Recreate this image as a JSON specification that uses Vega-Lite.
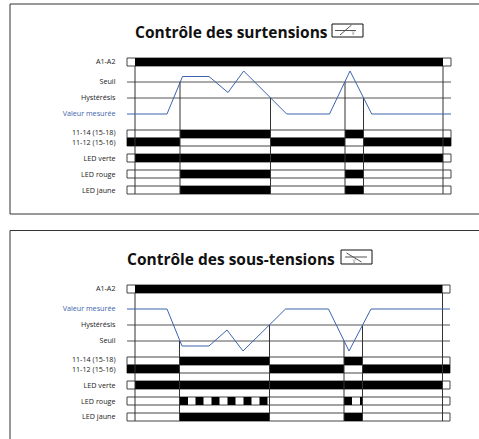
{"$schema":"https://vega.github.io/schema/vega-lite/v6.json","padding":0,"spacing":0,"background":"white","config":{"view":{"stroke":null},"concat":{"spacing":0}},
"datasets":{
"bars":[
{"p":1,"signal":"A1-A2","t0":-8,"t1":316,"y0":58,"y1":66,"state":"off"},
{"p":1,"signal":"11-14","t0":-8,"t1":316,"y0":130,"y1":138,"state":"off"},
{"p":1,"signal":"11-12","t0":-8,"t1":316,"y0":138,"y1":146,"state":"off"},
{"p":1,"signal":"verte","t0":-8,"t1":316,"y0":154,"y1":162,"state":"off"},
{"p":1,"signal":"rouge","t0":-8,"t1":316,"y0":170,"y1":178,"state":"off"},
{"p":1,"signal":"jaune","t0":-8,"t1":316,"y0":186,"y1":194,"state":"off"},
{"p":1,"signal":"A1-A2","t0":0,"t1":308,"y0":58,"y1":66,"state":"on"},
{"p":1,"signal":"11-14","t0":45,"t1":135.5,"y0":130,"y1":138,"state":"on"},
{"p":1,"signal":"11-14","t0":210,"t1":228.5,"y0":130,"y1":138,"state":"on"},
{"p":1,"signal":"11-12","t0":-8,"t1":45,"y0":138,"y1":146,"state":"on"},
{"p":1,"signal":"11-12","t0":135.5,"t1":210,"y0":138,"y1":146,"state":"on"},
{"p":1,"signal":"11-12","t0":228.5,"t1":316,"y0":138,"y1":146,"state":"on"},
{"p":1,"signal":"verte","t0":0,"t1":308,"y0":154,"y1":162,"state":"on"},
{"p":1,"signal":"rouge","t0":45,"t1":135.5,"y0":170,"y1":178,"state":"on"},
{"p":1,"signal":"rouge","t0":210,"t1":228.5,"y0":170,"y1":178,"state":"on"},
{"p":1,"signal":"jaune","t0":45,"t1":135.5,"y0":186,"y1":194,"state":"on"},
{"p":1,"signal":"jaune","t0":210,"t1":228.5,"y0":186,"y1":194,"state":"on"},
{"p":2,"signal":"A1-A2","t0":-8,"t1":315,"y0":65,"y1":73,"state":"off"},
{"p":2,"signal":"11-14","t0":-8,"t1":315,"y0":137,"y1":145,"state":"off"},
{"p":2,"signal":"11-12","t0":-8,"t1":315,"y0":145,"y1":153,"state":"off"},
{"p":2,"signal":"verte","t0":-8,"t1":315,"y0":161,"y1":169,"state":"off"},
{"p":2,"signal":"rouge","t0":-8,"t1":315,"y0":177,"y1":185,"state":"off"},
{"p":2,"signal":"jaune","t0":-8,"t1":315,"y0":193,"y1":201,"state":"off"},
{"p":2,"signal":"A1-A2","t0":0,"t1":307.5,"y0":65,"y1":73,"state":"on"},
{"p":2,"signal":"11-14","t0":44.5,"t1":134.5,"y0":137,"y1":145,"state":"on"},
{"p":2,"signal":"11-14","t0":209,"t1":227.5,"y0":137,"y1":145,"state":"on"},
{"p":2,"signal":"11-12","t0":-8,"t1":44.5,"y0":145,"y1":153,"state":"on"},
{"p":2,"signal":"11-12","t0":134.5,"t1":209,"y0":145,"y1":153,"state":"on"},
{"p":2,"signal":"11-12","t0":227.5,"t1":315,"y0":145,"y1":153,"state":"on"},
{"p":2,"signal":"verte","t0":0,"t1":307.5,"y0":161,"y1":169,"state":"on"},
{"p":2,"signal":"rouge","t0":44.5,"t1":53,"y0":177,"y1":185,"state":"on"},
{"p":2,"signal":"rouge","t0":60.5,"t1":68.5,"y0":177,"y1":185,"state":"on"},
{"p":2,"signal":"rouge","t0":76.5,"t1":84.5,"y0":177,"y1":185,"state":"on"},
{"p":2,"signal":"rouge","t0":92.5,"t1":100.5,"y0":177,"y1":185,"state":"on"},
{"p":2,"signal":"rouge","t0":108.5,"t1":116.5,"y0":177,"y1":185,"state":"on"},
{"p":2,"signal":"rouge","t0":124.5,"t1":132.5,"y0":177,"y1":185,"state":"on"},
{"p":2,"signal":"rouge","t0":209,"t1":217,"y0":177,"y1":185,"state":"on"},
{"p":2,"signal":"rouge","t0":225,"t1":227.5,"y0":177,"y1":185,"state":"on"},
{"p":2,"signal":"jaune","t0":44.5,"t1":134.5,"y0":193,"y1":201,"state":"on"},
{"p":2,"signal":"jaune","t0":209,"t1":227.5,"y0":193,"y1":201,"state":"on"}
],
"rules":[
{"p":1,"kind":"frame","t0":-125,"t1":344,"y0":4,"y1":4},
{"p":1,"kind":"frame","t0":-125,"t1":-125,"y0":4,"y1":214},
{"p":1,"kind":"frame","t0":-125,"t1":344,"y0":214,"y1":214},
{"p":1,"kind":"level","t0":-8,"t1":316,"y0":82,"y1":82},
{"p":1,"kind":"level","t0":-8,"t1":316,"y0":98,"y1":98},
{"p":1,"kind":"edge","t0":0,"t1":0,"y0":66,"y1":194},
{"p":1,"kind":"edge","t0":45,"t1":45,"y0":82,"y1":194},
{"p":1,"kind":"edge","t0":135.5,"t1":135.5,"y0":98,"y1":194},
{"p":1,"kind":"edge","t0":210,"t1":210,"y0":82,"y1":194},
{"p":1,"kind":"edge","t0":228.5,"t1":228.5,"y0":98,"y1":194},
{"p":1,"kind":"edge","t0":308,"t1":308,"y0":66,"y1":194},
{"p":2,"kind":"frame","t0":-125,"t1":344,"y0":10.5,"y1":10.5},
{"p":2,"kind":"frame","t0":-125,"t1":-125,"y0":10.5,"y1":219},
{"p":2,"kind":"level","t0":-8,"t1":315,"y0":105,"y1":105},
{"p":2,"kind":"level","t0":-8,"t1":315,"y0":121,"y1":121},
{"p":2,"kind":"edge","t0":0,"t1":0,"y0":73,"y1":201},
{"p":2,"kind":"edge","t0":44.5,"t1":44.5,"y0":121,"y1":201},
{"p":2,"kind":"edge","t0":134.5,"t1":134.5,"y0":105,"y1":201},
{"p":2,"kind":"edge","t0":209,"t1":209,"y0":121,"y1":201},
{"p":2,"kind":"edge","t0":227.5,"t1":227.5,"y0":105,"y1":201},
{"p":2,"kind":"edge","t0":307.5,"t1":307.5,"y0":73,"y1":201},
{"p":1,"kind":"icon","t0":197,"t1":228,"y0":24,"y1":24},
{"p":1,"kind":"icon","t0":197,"t1":228,"y0":37,"y1":37},
{"p":1,"kind":"icon","t0":197,"t1":197,"y0":24,"y1":37},
{"p":1,"kind":"icon","t0":228,"t1":228,"y0":24,"y1":37},
{"p":1,"kind":"glyph","t0":200,"t1":221,"y0":30.5,"y1":30.5},
{"p":1,"kind":"glyph","t0":205,"t1":216.5,"y0":35,"y1":25},
{"p":2,"kind":"icon","t0":206,"t1":237,"y0":30,"y1":30},
{"p":2,"kind":"icon","t0":206,"t1":237,"y0":44,"y1":44},
{"p":2,"kind":"icon","t0":206,"t1":206,"y0":30,"y1":44},
{"p":2,"kind":"icon","t0":237,"t1":237,"y0":30,"y1":44},
{"p":2,"kind":"glyph","t0":210,"t1":232,"y0":37,"y1":37},
{"p":2,"kind":"glyph","t0":211.5,"t1":226.5,"y0":33,"y1":42}
],
"measure":[
{"p":1,"t":-8,"v":114},{"p":1,"t":32,"v":114},{"p":1,"t":47.5,"v":76.5},{"p":1,"t":74,"v":76.5},{"p":1,"t":93,"v":92.5},{"p":1,"t":108.7,"v":71},{"p":1,"t":151.7,"v":114},{"p":1,"t":194.5,"v":114},{"p":1,"t":215,"v":71},{"p":1,"t":236.7,"v":114},{"p":1,"t":316,"v":114},
{"p":2,"t":-8,"v":89},{"p":2,"t":32,"v":89},{"p":2,"t":47,"v":126},{"p":2,"t":74,"v":126},{"p":2,"t":92,"v":110},{"p":2,"t":108,"v":131},{"p":2,"t":150.5,"v":89},{"p":2,"t":193.5,"v":89},{"p":2,"t":214,"v":131},{"p":2,"t":236,"v":89},{"p":2,"t":315,"v":89}
],
"labels":[
{"p":1,"label":"A1-A2","y":62,"kind":"signal"},{"p":1,"label":"Seuil","y":82,"kind":"signal"},{"p":1,"label":"Hystérésis","y":98,"kind":"signal"},{"p":1,"label":"Valeur mesurée","y":114,"kind":"mesure"},{"p":1,"label":"11-14 (15-18)","y":133,"kind":"signal"},{"p":1,"label":"11-12 (15-16)","y":143,"kind":"signal"},{"p":1,"label":"LED verte","y":159,"kind":"signal"},{"p":1,"label":"LED rouge","y":175,"kind":"signal"},{"p":1,"label":"LED jaune","y":191,"kind":"signal"},
{"p":2,"label":"A1-A2","y":69,"kind":"signal"},{"p":2,"label":"Valeur mesurée","y":89,"kind":"mesure"},{"p":2,"label":"Hystérésis","y":105,"kind":"signal"},{"p":2,"label":"Seuil","y":121,"kind":"signal"},{"p":2,"label":"11-14 (15-18)","y":140,"kind":"signal"},{"p":2,"label":"11-12 (15-16)","y":150,"kind":"signal"},{"p":2,"label":"LED verte","y":166,"kind":"signal"},{"p":2,"label":"LED rouge","y":182,"kind":"signal"},{"p":2,"label":"LED jaune","y":197,"kind":"signal"}
],
"titles":[
{"p":1,"title":"Contrôle des surtensions","t":0,"y":38},
{"p":2,"title":"Contrôle des sous-tensions","t":-8,"y":45}
],
"units":[
{"p":1,"u":"V","t":218,"y":35},
{"p":2,"u":"V","t":219,"y":42.5}
]},
"vconcat":[
{"width":479,"height":220,"layer":[
{"data":{"name":"bars"},"transform":[{"filter":"datum.p==1"}],"mark":{"type":"rect","strokeWidth":1,"strokeJoin":"miter"},"encoding":{"x":{"field":"t0","type":"quantitative","scale":{"domain":[-135,344],"nice":false,"zero":false},"axis":null},"x2":{"field":"t1"},"y":{"field":"y0","type":"quantitative","scale":{"domain":[220,0],"nice":false,"zero":false},"axis":null},"y2":{"field":"y1"},"fill":{"field":"state","type":"nominal","scale":{"domain":["off","on"],"range":["#ffffff","#000000"]},"legend":null},"stroke":{"field":"state","type":"nominal","scale":{"domain":["off","on"],"range":["#444444","transparent"]},"legend":null}}},
{"data":{"name":"rules"},"transform":[{"filter":"datum.p==1"}],"mark":{"type":"rule","strokeWidth":1},"encoding":{"x":{"field":"t0","type":"quantitative"},"x2":{"field":"t1"},"y":{"field":"y0","type":"quantitative"},"y2":{"field":"y1"},"color":{"field":"kind","type":"nominal","scale":{"domain":["frame","level","edge","icon","glyph","signal","mesure"],"range":["#333333","#555555","#333333","#111111","#555555","#222222","#3c64ad"]},"legend":null}}},
{"data":{"name":"measure"},"transform":[{"filter":"datum.p==1"}],"mark":{"type":"line","color":"#3c64ad","strokeWidth":1,"interpolate":"linear"},"encoding":{"x":{"field":"t","type":"quantitative"},"y":{"field":"v","type":"quantitative"}}},
{"data":{"name":"labels"},"transform":[{"filter":"datum.p==1"}],"mark":{"type":"text","align":"right","baseline":"middle","font":"Open Sans","fontSize":7.2,"x":115.5},"encoding":{"y":{"field":"y","type":"quantitative"},"text":{"field":"label"},"color":{"field":"kind","type":"nominal","scale":{"domain":["frame","level","edge","icon","glyph","signal","mesure"],"range":["#333333","#555555","#333333","#111111","#555555","#222222","#3c64ad"]},"legend":null}}},
{"data":{"name":"titles"},"transform":[{"filter":"datum.p==1"}],"mark":{"type":"text","align":"left","baseline":"alphabetic","font":"Open Sans","fontWeight":700,"fontSize":15.5,"color":"#111111"},"encoding":{"x":{"field":"t","type":"quantitative"},"y":{"field":"y","type":"quantitative"},"text":{"field":"title"}}},
{"data":{"name":"units"},"transform":[{"filter":"datum.p==1"}],"mark":{"type":"text","align":"center","baseline":"alphabetic","font":"Open Sans","fontSize":4.5,"color":"#555555"},"encoding":{"x":{"field":"t","type":"quantitative"},"y":{"field":"y","type":"quantitative"},"text":{"field":"u"}}}
]},
{"width":479,"height":219,"layer":[
{"data":{"name":"bars"},"transform":[{"filter":"datum.p==2"}],"mark":{"type":"rect","strokeWidth":1,"strokeJoin":"miter"},"encoding":{"x":{"field":"t0","type":"quantitative","scale":{"domain":[-135,344],"nice":false,"zero":false},"axis":null},"x2":{"field":"t1"},"y":{"field":"y0","type":"quantitative","scale":{"domain":[219,0],"nice":false,"zero":false},"axis":null},"y2":{"field":"y1"},"fill":{"field":"state","type":"nominal","scale":{"domain":["off","on"],"range":["#ffffff","#000000"]},"legend":null},"stroke":{"field":"state","type":"nominal","scale":{"domain":["off","on"],"range":["#222222","transparent"]},"legend":null}}},
{"data":{"name":"rules"},"transform":[{"filter":"datum.p==2"}],"mark":{"type":"rule","strokeWidth":1},"encoding":{"x":{"field":"t0","type":"quantitative"},"x2":{"field":"t1"},"y":{"field":"y0","type":"quantitative"},"y2":{"field":"y1"},"color":{"field":"kind","type":"nominal","scale":{"domain":["frame","level","edge","icon","glyph","signal","mesure"],"range":["#333333","#555555","#222222","#111111","#555555","#222222","#3c64ad"]},"legend":null}}},
{"data":{"name":"measure"},"transform":[{"filter":"datum.p==2"}],"mark":{"type":"line","color":"#3c64ad","strokeWidth":1,"interpolate":"linear"},"encoding":{"x":{"field":"t","type":"quantitative"},"y":{"field":"v","type":"quantitative"}}},
{"data":{"name":"labels"},"transform":[{"filter":"datum.p==2"}],"mark":{"type":"text","align":"right","baseline":"middle","font":"Open Sans","fontSize":7.2,"x":115.5},"encoding":{"y":{"field":"y","type":"quantitative"},"text":{"field":"label"},"color":{"field":"kind","type":"nominal","scale":{"domain":["frame","level","edge","icon","glyph","signal","mesure"],"range":["#333333","#555555","#222222","#111111","#555555","#222222","#3c64ad"]},"legend":null}}},
{"data":{"name":"titles"},"transform":[{"filter":"datum.p==2"}],"mark":{"type":"text","align":"left","baseline":"alphabetic","font":"Open Sans","fontWeight":700,"fontSize":15.5,"color":"#111111"},"encoding":{"x":{"field":"t","type":"quantitative"},"y":{"field":"y","type":"quantitative"},"text":{"field":"title"}}},
{"data":{"name":"units"},"transform":[{"filter":"datum.p==2"}],"mark":{"type":"text","align":"center","baseline":"alphabetic","font":"Open Sans","fontSize":4.5,"color":"#555555"},"encoding":{"x":{"field":"t","type":"quantitative"},"y":{"field":"y","type":"quantitative"},"text":{"field":"u"}}}
]}
]}
